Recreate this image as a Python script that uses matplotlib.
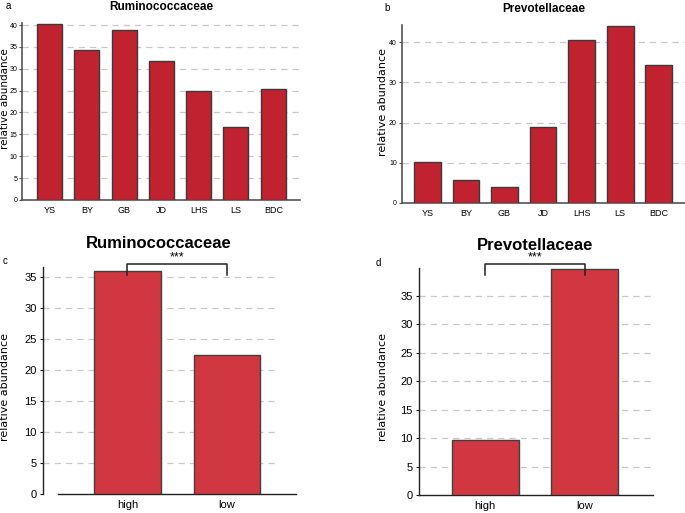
import matplotlib
matplotlib.use('Agg')
import matplotlib.pyplot as plt

# data
sites = ['YS', 'BY', 'GB', 'JD', 'LHS', 'LS', 'BDC']
rumino_site = [40.2, 34.3, 38.8, 31.8, 24.8, 16.7, 25.3]
prevo_site = [10.2, 5.6, 4.0, 18.9, 40.6, 44.1, 34.3]
groups = ['high', 'low']
rumino_group = [36.0, 22.4]
prevo_group = [9.7, 39.7]

W, H = 685, 513
narrow = ['Liberation Sans Narrow', 'Liberation Sans', 'DejaVu Sans']
arial = ['Liberation Sans', 'DejaVu Sans']
red_top = '#c0232f'
red_bot = '#d13741'
grid_col = '#c8c8c8'

fig = plt.figure(figsize=(W/100, H/100), dpi=100)

def px_axes(x0, y0, x1, y1):
    # pixel box (top-left origin) to figure fraction
    return fig.add_axes([x0/W, 1 - y1/H, (x1-x0)/W, (y1-y0)/H])

def ftext(x, y, s, **kw):
    return fig.text(x/W, 1 - y/H, s, **kw)

def site_panel(ax, vals, ylim, yticks, xlim, width, title, letter, lx, ly):
    ax.bar(range(len(sites)), vals, width=width, color=red_top, edgecolor='#3a3a3a', linewidth=1.0, zorder=3)
    ax.set_xlim(xlim)
    ax.set_ylim(0, ylim)
    ax.set_yticks(yticks)
    ax.set_xticks(range(len(sites)))
    ax.set_xticklabels(sites, family=narrow, fontsize=6.5)
    ax.set_yticklabels([str(t) for t in yticks], family=narrow, fontsize=5)
    for t in yticks[1:]:
        ax.axhline(t, color=grid_col, lw=0.9, ls=(0, (5, 4)), zorder=1)
    for s in ['top', 'right']:
        ax.spines[s].set_visible(False)
    for s in ['left', 'bottom']:
        ax.spines[s].set_color('#555555')
        ax.spines[s].set_linewidth(1.2)
    ax.tick_params(axis='y', length=2.5, width=0.8, color='#555555', pad=1)
    ax.tick_params(axis='x', length=0, pad=4)
    ax.set_title(title, family=narrow, fontsize=8.5, fontweight='bold', pad=9)
    ftext(lx, ly, letter, family=arial, fontsize=7, ha='left', va='center')

# panel a
axa = px_axes(22, 200 - 40.5*4.375, 300, 200)
site_panel(axa, rumino_site, 40.5, [0, 5, 10, 15, 20, 25, 30, 35, 40], (-0.737, 6.716), 0.67,
           'Ruminococcaceae', 'a', 6, 6)
ftext(5, 98.5, 'relative abundance', family='DejaVu Sans', fontsize=7.5, rotation=90, ha='center', va='center')

# panel b
axb = px_axes(401.7, 203 - 44.3*4.02, 685, 203)
site_panel(axb, prevo_site, 44.3, [0, 10, 20, 30, 40], (-0.664, 6.68), 0.69,
           'Prevotellaceae', 'b', 384, 8)
ftext(382.5, 102.5, 'relative abundance', family='DejaVu Sans', fontsize=8, rotation=90, ha='center', va='center')

def group_panel(ax, vals, ylim, yticks, xlim, spine_x0, grid_x, letter, lx, ly, br_y, leg_y):
    ax.bar(range(len(groups)), vals, width=0.67, color=red_bot, edgecolor='#404040', linewidth=1.0, zorder=3)
    ax.set_xlim(xlim)
    ax.set_ylim(0, ylim)
    ax.set_yticks(yticks)
    ax.set_xticks(range(len(groups)))
    ax.set_xticklabels(groups, family=arial, fontsize=8)
    ax.set_yticklabels([str(t) for t in yticks], family=arial, fontsize=8)
    ax.hlines(yticks[1:], grid_x[0], grid_x[1], color=grid_col, lw=0.9, ls=(0, (5, 4)), zorder=1)
    for s in ['top', 'right']:
        ax.spines[s].set_visible(False)
    ax.spines['left'].set_color('#222222')
    ax.spines['bottom'].set_color('#222222')
    ax.spines['left'].set_linewidth(1.0)
    ax.spines['bottom'].set_linewidth(1.0)
    ax.spines['bottom'].set_bounds(spine_x0, xlim[1])
    ax.tick_params(axis='y', length=2.5, width=0.8, pad=2)
    ax.tick_params(axis='x', length=0, pad=4)
    # significance bracket
    ax.plot([0, 0, 1, 1], [leg_y[0], br_y, br_y, leg_y[1]], color='#222222', lw=1.1, clip_on=False, zorder=5)
    ax.text(0.5, br_y + 0.1, '***', family=arial, fontsize=9, ha='center', va='bottom')
    ftext(lx, ly, letter, family=arial, fontsize=7, ha='left', va='center')

# panel c
axc = px_axes(42.7, 494 - 36.6*6.2, 296, 494)
group_panel(axc, rumino_group, 36.6, [0, 5, 10, 15, 20, 25, 30, 35], (-0.854, 1.697), -0.70,
            (-0.85, 1.477), 'c', 3, 261, 37.1, (35.4, 35.3))
ftext(158.5, 244, 'Ruminococcaceae', family=arial, fontsize=12, fontweight='bold', ha='center', va='center')
ftext(5.5, 386.7, 'relative abundance', family='DejaVu Sans', fontsize=8, rotation=90, ha='center', va='center')

# panel d
axd = px_axes(418.7, 495 - 39.9*5.69, 652.7, 495)
group_panel(axd, prevo_group, 39.9, [0, 5, 10, 15, 20, 25, 30, 35], (-0.668, 1.682), -0.668,
            (-0.66, 1.672), 'd', 376, 263, 40.6, (38.6, 38.6))
ftext(535, 245, 'Prevotellaceae', family=arial, fontsize=12, fontweight='bold', ha='center', va='center')
ftext(382.5, 386.7, 'relative abundance', family='DejaVu Sans', fontsize=8, rotation=90, ha='center', va='center')

fig.savefig('out.png', dpi=100)
